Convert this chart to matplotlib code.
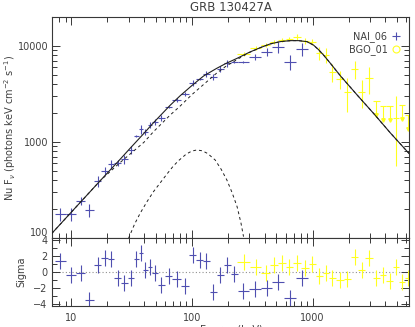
import numpy as np
import matplotlib
matplotlib.use("Agg")
import matplotlib.pyplot as plt
from matplotlib.lines import Line2D
from matplotlib.ticker import FixedLocator, NullFormatter, LogLocator

# ---------------- data ----------------
title = "GRB 130427A"
ylabel_top = r"Nu F$_{\nu}$ (photons keV cm$^{-2}$ s$^{-1}$)"
ylabel_bottom = "Sigma"
xlabel = "Energy (keV)"
det_names = ["NAI_06", "BGO_01"]

# NaI detector: channel edges (keV), nuFnu flux, flux error, residual (sigma)
nai_edges = [7.37, 9.00, 11.0, 13.06, 15.37, 17.83, 20.27, 22.81, 25.78, 29.30,
             33.11, 36.42, 39.38, 43.09, 47.04, 52.16, 59.62, 68.90, 80.91, 94.8,
             108.8, 123.4, 140.3, 160.3, 183.2, 209.4, 241.6, 295.2, 374.9, 464.2,
             576.1, 727, 923]
nai_flux = [177, 177, 244, 197, 394, 504, 587, 601, 661, 826,
            1162, 1355, 1279, 1503, 1625, 1787, 2328, 2729, 3148, 4130,
            4480, 5050, 4700, 5690, 6560, 6720, 6720, 7690, 8670, 9620,
            6820, 9180]
nai_err = [27, 27, 24, 30, 50, 50, 59, 44, 66, 83,
           28, 136, 95, 111, 120, 132, 56, 134, 154, 306,
           108, 374, 348, 421, 485, 161, 161, 569, 867, 1222,
           1241, 1414]
nai_resid = [1.4, -0.4, -0.1, -3.5, 0.9, 1.8, 1.6, -0.7, -1.4, -0.7,
             1.7, 2.4, 0.25, 0.7, -0.05, -1.6, -0.5, -0.8, -1.7, 2.1,
             1.5, 1.4, -2.5, -0.3, 0.9, -0.2, -2.3, -2.1, -2.0, -1.2,
             -3.25, -0.75]

# BGO detector
bgo_edges = [237.9, 303.3, 375.5, 442.5, 515.6, 600.5, 689.1, 795.3, 928.3, 1071,
             1210, 1362, 1561, 1811, 2090, 2398, 2741, 3145, 3608, 4085,
             4632, 5235, 5826, 6471]
bgo_flux = [8200, 9397, 10170, 11000, 11460, 11740, 12400, 11300, 10900, 8340,
            8005, 5370, 4480, 3330, 5690, 3330, 4586, 2684, 2365, 2365,
            1788, 2422, 1907]
bgo_err = [400, 460, 500, 540, 560, 580, 900, 780, 780, 1290,
           1450, 1130, 940, 1300, 1200, 1100, 1400, 0, 0, 0,
           1230, 0, 0]
bgo_uplim = [False, False, False, False, False, False, False, False, False, False,
             False, False, False, False, False, False, False, True, True, True,
             False, True, True]
bgo_resid = [1.3, 0.7, -0.1, 0.9, 1.1, 0.7, 1.2, 0.5, 1.0, -0.45,
             -0.1, -0.75, -0.95, -0.85, 1.9, 0.3, 1.8, -0.7, -0.35, -1.15,
             0.7, -1.25, -0.75]

# model curves
model_e = [6.9, 10, 17.4, 25, 30.8, 40, 48, 57, 66, 80,
           100, 125, 160, 190, 237, 300, 370, 445, 541, 657,
           765, 896, 1017, 1120, 1232, 1400, 1704, 2349, 3233, 4416, 6300]
total_f = [112, 186, 396, 645, 860, 1225, 1580, 1980, 2400, 3020,
           3850, 4840, 5800, 6500, 7390, 8550, 9550, 10420, 11020, 11280,
           11280, 11020, 10160, 9100, 8000, 6600, 4850, 3060, 1954, 1240, 760]
band_f = [112, 186, 396, 600, 750, 990, 1275, 1580, 1900, 2360,
          3100, 3950, 5170, 6070, 7180, 8500, 9550, 10420, 11020, 11280,
          11280, 11020, 10160, 9100, 8000, 6600, 4850, 3060, 1954, 1240, 760]
bb_e = [29.9, 33.5, 37.3, 42.5, 48.1, 55, 62.2, 70, 77.6, 90,
        100, 110, 122, 135, 156, 175, 195, 215, 237, 255, 268]
bb_f = [100, 140, 182, 240, 305, 380, 465, 560, 640, 750,
        805, 826, 810, 760, 650, 520, 403, 300, 213, 145, 104]

x_ticks = [10, 100, 1000]
x_tick_labels = ["10", "100", "1000"]
y_ticks = [100, 1000, 10000]
y_tick_labels = ["100", "1000", "10000"]
s_ticks = [-4, -2, 0, 2, 4]
s_tick_labels = ["\u22124", "\u22122", "0", "2", "4"]

# ---------------- style ----------------
BLUE = "#4f4fb0"
YELLOW = "#ffff20"
TXT = "#404040"
AXC = "#383838"
MODEL = "#202020"

plt.rcParams.update({
    "font.family": ["DejaVu Sans"],
    "font.size": 7,
    "axes.linewidth": 0.8,
})

fig = plt.figure(figsize=(4.15, 3.27), dpi=100)
ax = fig.add_axes([0.1246, 0.2713, 0.861, 0.6777])
axr = fig.add_axes([0.1246, 0.0642, 0.861, 0.2071])


def centers(edges):
    e = np.asarray(edges, float)
    lo, hi = e[:-1], e[1:]
    c = np.sqrt(lo * hi)
    return c, np.vstack([c - lo, hi - c])


nai_c, nai_xerr = centers(nai_edges)
bgo_c, bgo_xerr = centers(bgo_edges)
ul = np.array(bgo_uplim)
bflux = np.array(bgo_flux, float)
berr = np.array(bgo_err, float)
bed = np.array(bgo_edges, float)

# ---- top panel ----
ax.errorbar(nai_c, nai_flux, xerr=nai_xerr, yerr=nai_err, fmt="none",
            ecolor=BLUE, elinewidth=0.8, capsize=0, zorder=2)
ax.errorbar(bgo_c[~ul], bflux[~ul], xerr=bgo_xerr[:, ~ul], yerr=berr[~ul],
            fmt="none", ecolor=YELLOW, elinewidth=0.8, capsize=0, zorder=2)
ax.hlines(bflux[ul], bed[:-1][ul], bed[1:][ul], color=YELLOW, lw=0.8, zorder=2)
ax.vlines(bgo_c[ul], bflux[ul] / 1.4, bflux[ul], color=YELLOW, lw=0.8, zorder=2)
ax.plot(bgo_c[ul], bflux[ul] / 1.4, ls="none", marker="v", ms=2.5,
        color=YELLOW, zorder=2)

ax.plot(model_e, total_f, color=MODEL, lw=0.8, zorder=3)
ax.plot(model_e, band_f, color=MODEL, lw=0.7, ls=(0, (3, 3)), zorder=3)
ax.plot(bb_e, bb_f, color=MODEL, lw=0.7, ls=(0, (3, 3)), zorder=3)

ax.set_xscale("log")
ax.set_yscale("log")
ax.set_xlim(6.9, 6300)
ax.set_ylim(100, 20000)
ax.xaxis.set_major_locator(FixedLocator(x_ticks))
ax.xaxis.set_minor_locator(LogLocator(base=10, subs=np.arange(2, 10)))
ax.xaxis.set_minor_formatter(NullFormatter())
ax.set_xticklabels([])
ax.yaxis.set_major_locator(FixedLocator(y_ticks))
ax.set_yticklabels(y_tick_labels)
ax.yaxis.set_minor_locator(LogLocator(base=10, subs=np.arange(2, 10)))
ax.yaxis.set_minor_formatter(NullFormatter())
ax.tick_params(which="both", direction="in", top=True, right=True,
               colors=AXC, labelcolor=TXT, width=0.7)
ax.tick_params(which="major", length=6, pad=2.5)
ax.tick_params(which="minor", length=3.5)
for s in ax.spines.values():
    s.set_color(AXC)
# lowest label sits just above its tick, as in the reference
ax.get_yticklabels()[0].set_verticalalignment("bottom")
ax.set_ylabel(ylabel_top, color=TXT, fontsize=7)
ax.yaxis.set_label_coords(-0.093, 0.5)

handles = [Line2D([], [], ls="none", marker="+", color=BLUE, ms=6, mew=0.8),
           Line2D([], [], ls="none", marker="o", mfc="none", mec=YELLOW, ms=5, mew=0.8)]
ax.legend(handles, det_names, loc="upper right", bbox_to_anchor=(0.975, 0.935),
          frameon=False, markerfirst=False, handlelength=0.9, handletextpad=0.4,
          labelspacing=0.2, borderpad=0, borderaxespad=0, fontsize=7,
          labelcolor=TXT)

# ---- residual panel ----
axr.axhline(0, color="#909090", ls=(0, (1, 2)), lw=0.8, zorder=1)
axr.errorbar(nai_c, nai_resid, xerr=nai_xerr, yerr=1.0, fmt="none",
             ecolor=BLUE, elinewidth=0.8, capsize=0, zorder=2)
axr.errorbar(bgo_c, bgo_resid, xerr=bgo_xerr, yerr=1.0, fmt="none",
             ecolor=YELLOW, elinewidth=0.8, capsize=0, zorder=2)
axr.set_xscale("log")
axr.set_xlim(6.9, 6300)
axr.set_ylim(-4.23, 4.23)
axr.xaxis.set_major_locator(FixedLocator(x_ticks))
axr.set_xticklabels(x_tick_labels)
axr.xaxis.set_minor_locator(LogLocator(base=10, subs=np.arange(2, 10)))
axr.xaxis.set_minor_formatter(NullFormatter())
axr.yaxis.set_major_locator(FixedLocator(s_ticks))
axr.set_yticklabels(s_tick_labels)
axr.yaxis.set_minor_locator(FixedLocator([-3, -1, 1, 3]))
axr.tick_params(which="both", direction="in", top=True, right=True,
                colors=AXC, labelcolor=TXT, width=0.7)
axr.tick_params(which="major", length=6)
axr.tick_params(which="minor", length=3.5)
axr.tick_params(axis="x", which="major", pad=5)
axr.tick_params(axis="y", which="major", pad=3)
for s in axr.spines.values():
    s.set_color(AXC)
axr.set_ylabel(ylabel_bottom, color=TXT, fontsize=7)
axr.yaxis.set_label_coords(-0.07, 0.5)

fig.text(0.5566, 1 - 7.5 / 327, title, ha="center", va="center",
         fontsize=8.5, color=TXT)
fig.text(0.5566, 1 - 325.0 / 327, xlabel, ha="center", va="top",
         fontsize=7, color=TXT)

fig.savefig("out.png", dpi=100)
